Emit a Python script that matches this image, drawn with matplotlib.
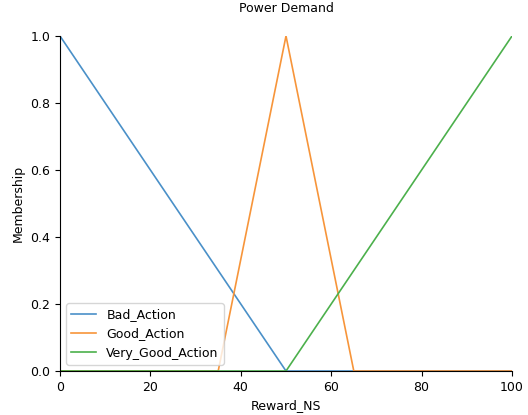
import matplotlib
matplotlib.use("Agg")
import matplotlib.pyplot as plt

# Breakpoints of each membership function (x, membership)
bad_x = [0, 50, 100]
bad_y = [1.0, 0.0, 0.0]
good_x = [0, 35, 50, 65, 100]
good_y = [0.0, 0.0, 1.0, 0.0, 0.0]
vgood_x = [0, 50, 100]
vgood_y = [0.0, 0.0, 1.0]
labels = ["Bad_Action", "Good_Action", "Very_Good_Action"]
colors = ["#4a90c8", "#f7953a", "#4cb04c"]
xticks = [0, 20, 40, 60, 80, 100]
yticks = [0.0, 0.2, 0.4, 0.6, 0.8, 1.0]

plt.rcParams["font.size"] = 9
fig = plt.figure(figsize=(5.28, 4.15), dpi=100)
ax = fig.add_axes([60/528, 1-371/415, (512-60)/528, (371-36)/415])

for xs, ys, lab, c in zip([bad_x, good_x, vgood_x], [bad_y, good_y, vgood_y], labels, colors):
    ax.plot(xs, ys, color=c, linewidth=1.2, label=lab)

ax.set_xlim(0, 100)
ax.set_ylim(0, 1.0)
ax.set_xticks(xticks)
ax.set_yticks(yticks)
ax.spines["top"].set_visible(False)
ax.spines["right"].set_visible(False)
ax.set_xlabel("Reward_NS")
ax.set_ylabel("Membership")
ax.set_title("Power Demand", fontsize=9, pad=17)
ax.legend(loc="lower left")

fig.savefig("out.png", dpi=100)
